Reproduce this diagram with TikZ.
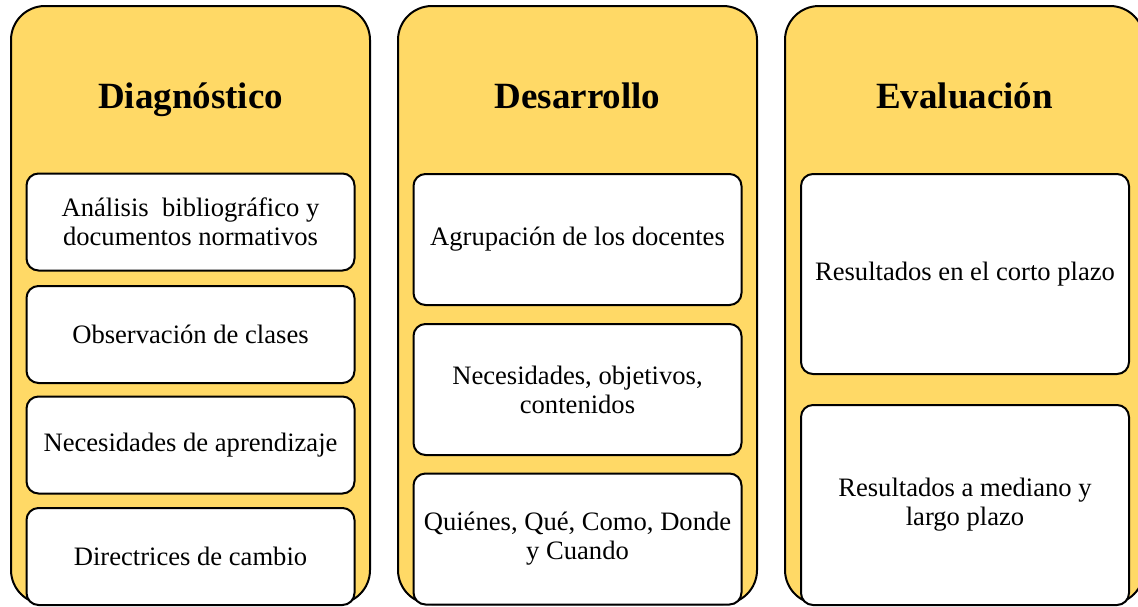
\documentclass[tikz,border=0pt]{standalone}
\usepackage{fontspec}
\setmainfont{Liberation Serif}
\usepackage{xcolor}
\definecolor{gold}{RGB}{255, 217, 102}

\begin{document}
\begin{tikzpicture}[x=0.5pt, y=-0.5pt,
  panel/.style={draw=black, line width=1pt, fill=gold, rounded corners=17pt},
  item/.style={draw=black, line width=1pt, fill=white, rounded corners=6pt, align=center, inner sep=0pt,
    minimum width=164pt, font=\fontsize{13.3}{14.5}\selectfont},
  head/.style={anchor=base, font=\fontsize{18.5}{22}\selectfont\bfseries}]
\useasboundingbox (0,0) rectangle (1138,606);
\clip (0,0) rectangle (1138,606);
% panels
\draw[panel] (11,6) rectangle (370,604);
\draw[panel] (398,6) rectangle (757,604);
\draw[panel] (785,6) rectangle (1144,604);
\node[head] (diag) at (190.5,108) {Diagnóstico};
\node[head] (desa) at (577.5,108) {Desarrollo};
\node[head] (eval) at (964.5,108) {Evaluación};
% first column
\node[item, minimum height=48.5pt] (d1) at (190.5,222) {Análisis\ \ bibliográfico y\\documentos normativos};
\node[item, minimum height=48.5pt] (d2) at (190.5,334.5) {Observación de clases};
\node[item, minimum height=48.5pt] (d3) at (190.5,445) {Necesidades de aprendizaje};
\node[item, minimum height=48.5pt] (d4) at (190.5,556.5) {Directrices de cambio};
% second column
\node[item, minimum height=65.5pt] (s1) at (577.5,239.5) {Agrupación de los docentes};
\node[item, minimum height=65.5pt] (s2) at (577.5,389.5) {Necesidades, objetivos,\\contenidos};
\node[item, minimum height=65.5pt] (s3) at (577.5,539) {Quiénes, Qué, Como, Donde\\y Cuando};
% third column
\node[item, minimum height=100pt] (e1) at (965,274) {Resultados en el corto plazo};
\node[item, minimum height=100pt] (e2) at (965,505) {Resultados a mediano y\\largo plazo};
\end{tikzpicture}
\end{document}
